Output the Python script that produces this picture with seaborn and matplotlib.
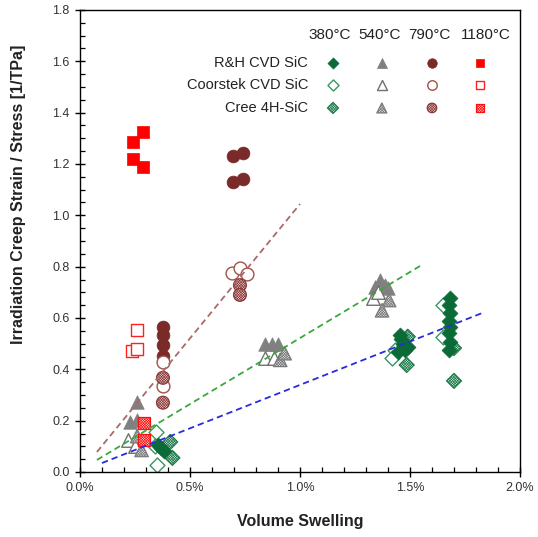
import matplotlib
matplotlib.use('Agg')
import matplotlib.pyplot as plt
import seaborn as sns
import numpy as np
from matplotlib.ticker import MultipleLocator, FuncFormatter

sns.set_style('white')
plt.rcParams['font.family'] = ['Liberation Sans', 'DejaVu Sans']
plt.rcParams['hatch.linewidth'] = 0.45

# ---------------- data (x = volume swelling in %, y = creep compliance 1/TPa)
# 380 C
rh380_x = [0.355, 0.38, 0.37, 1.455, 1.47, 1.477, 1.445, 1.49, 1.46,
           1.68, 1.675, 1.68, 1.675, 1.68, 1.675, 1.68, 1.675]
rh380_y = [0.105, 0.08, 0.095, 0.533, 0.50, 0.475, 0.467, 0.487, 0.52,
           0.677, 0.65, 0.62, 0.59, 0.565, 0.54, 0.507, 0.475]
co380_x = [0.345, 0.35, 0.34, 1.43, 1.42, 1.65, 1.65]
co380_y = [0.155, 0.028, 0.10, 0.475, 0.443, 0.65, 0.527]
cr380_x = [0.41, 0.42, 1.49, 1.485, 1.70, 1.70]
cr380_y = [0.117, 0.055, 0.527, 0.417, 0.483, 0.355]
# 540 C
rh540_x = [0.26, 0.228, 0.26, 0.84, 0.873, 0.90, 1.34, 1.364, 1.386, 1.40]
rh540_y = [0.273, 0.195, 0.203, 0.50, 0.50, 0.50, 0.72, 0.748, 0.728, 0.717]
co540_x = [0.22, 0.25, 0.84, 0.88, 1.33, 1.355]
co540_y = [0.125, 0.10, 0.445, 0.445, 0.677, 0.70]
cr540_x = [0.28, 0.26, 0.91, 0.93, 1.405, 1.373]
cr540_y = [0.086, 0.14, 0.437, 0.463, 0.67, 0.63]
# 790 C
rh790_x = [0.377, 0.377, 0.377, 0.377, 0.695, 0.74, 0.695, 0.74]
rh790_y = [0.565, 0.533, 0.495, 0.452, 1.23, 1.243, 1.13, 1.14]
co790_x = [0.377, 0.377, 0.69, 0.727, 0.76]
co790_y = [0.43, 0.335, 0.775, 0.795, 0.77]
cr790_x = [0.377, 0.377, 0.727, 0.727]
cr790_y = [0.367, 0.27, 0.728, 0.69]
# 1180 C
rh1180_x = [0.286, 0.24, 0.24, 0.286]
rh1180_y = [1.325, 1.285, 1.22, 1.19]
co1180_x = [0.235, 0.26, 0.26]
co1180_y = [0.47, 0.48, 0.553]
cr1180_x = [0.29, 0.29]
cr1180_y = [0.19, 0.125]

# fitted trend lines (endpoints)
fit380_x = [0.10, 1.83]
fit380_y = [0.035, 0.62]
fit540_x = [0.077, 1.56]
fit540_y = [0.047, 0.81]
fit790_x = [0.077, 1.00]
fit790_y = [0.078, 1.044]

temps = ['380°C', '540°C', '790°C', '1180°C']
materials = ['R&H CVD SiC', 'Coorstek CVD SiC', 'Cree 4H-SiC']
x_ticks = [0.0, 0.5, 1.0, 1.5, 2.0]
y_ticks = [0.0, 0.2, 0.4, 0.6, 0.8, 1.0, 1.2, 1.4, 1.6, 1.8]

# ---------------- styles
markers = {'380°C': 'D', '540°C': '^', '790°C': 'o', '1180°C': 's'}
sizes = {'380°C': 58, '540°C': 95, '790°C': 85, '1180°C': 70}
col_fill = {'380°C': '#0b6b37', '540°C': '#808080', '790°C': '#7b2a2a', '1180°C': '#ff0000'}
col_open = {'380°C': '#3a9466', '540°C': '#707070', '790°C': '#a0524a', '1180°C': '#ff2020'}
col_hat = {'380°C': '#1e7a4a', '540°C': '#7a7a7a', '790°C': '#8a3a3a', '1180°C': '#ff1010'}
col_hat_bg = {'380°C': '#d6eadf', '540°C': '#e4e4e4', '790°C': '#ead6d6', '1180°C': '#ffdede'}

groups = [
    ('380°C', 'open', co380_x, co380_y),
    ('380°C', 'hatch', cr380_x, cr380_y),
    ('380°C', 'fill', rh380_x, rh380_y),
    ('540°C', 'fill', rh540_x, rh540_y),
    ('540°C', 'open', co540_x, co540_y),
    ('540°C', 'hatch', cr540_x, cr540_y),
    ('790°C', 'fill', rh790_x, rh790_y),
    ('790°C', 'open', co790_x, co790_y),
    ('790°C', 'hatch', cr790_x, cr790_y),
    ('1180°C', 'fill', rh1180_x, rh1180_y),
    ('1180°C', 'open', co1180_x, co1180_y),
    ('1180°C', 'hatch', cr1180_x, cr1180_y),
]


def style_kw(t, kind):
    if kind == 'fill':
        return dict(color=col_fill[t], edgecolor=col_fill[t], linewidth=0.5)
    if kind == 'open':
        return dict(color=col_open[t], facecolor='white', edgecolor=col_open[t], linewidth=1.0)
    return dict(color=col_hat[t], facecolor=col_hat_bg[t], edgecolor=col_hat[t], linewidth=0.9,
                hatch='x' * 13)


fig = plt.figure(figsize=(5.38, 5.37), dpi=100)
ax = fig.add_axes([80 / 538, 1 - 472 / 537, 440 / 538, 462 / 537])

for t, kind, gx, gy in groups:
    sns.scatterplot(x=gx, y=gy, marker=markers[t], s=sizes[t], ax=ax, legend=False,
                    zorder=2, **style_kw(t, kind))

for fx, fy, c in [(fit380_x, fit380_y, '#2a2ae0'), (fit540_x, fit540_y, '#3aa83a'),
                  (fit790_x, fit790_y, '#a86a6a')]:
    sns.lineplot(x=fx, y=fy, ax=ax, color=c, linewidth=1.3, dashes=False, zorder=3)
    ax.lines[-1].set_linestyle((0, (3.5, 2.2)))

ax.set_xlim(0, 2.0)
ax.set_ylim(0, 1.8)
ax.set_xticks(x_ticks)
ax.set_yticks(y_ticks)
ax.xaxis.set_major_formatter(FuncFormatter(lambda v, p: f'{v:.1f}%'))
ax.yaxis.set_major_formatter(FuncFormatter(lambda v, p: f'{v:.1f}'))
ax.xaxis.set_minor_locator(MultipleLocator(0.1))
ax.yaxis.set_minor_locator(MultipleLocator(0.05))
ax.tick_params(which='major', direction='inout', length=7, width=1, colors='black',
               labelsize=9, labelcolor='#333333', pad=4)
ax.tick_params(which='minor', direction='in', length=3.5, width=0.9, colors='black')
ax.tick_params(axis='y', which='both', left=True)
ax.tick_params(axis='x', which='both', bottom=True)
for sp in ax.spines.values():
    sp.set_color('black')
    sp.set_linewidth(1.0)

ax.set_xlabel('Volume Swelling', fontsize=11.5, fontweight='bold', color='#222222', labelpad=14)
ax.set_ylabel('Irradiation Creep Strain / Stress [1/TPa]', fontsize=11.5, fontweight='bold',
              color='#222222')
ax.yaxis.set_label_coords(-0.122, 0.6)

# ---------------- table legend
col_x = [0.575, 0.686, 0.80, 0.909]
head_x = [0.568, 0.682, 0.795, 0.923]
row_y = [0.885, 0.838, 0.788]
for t, hx in zip(temps, head_x):
    ax.text(hx, 0.946, t, transform=ax.transAxes, ha='center', va='center',
            fontsize=11, color='#222222')
for m, ry, kind in zip(materials, row_y, ['fill', 'open', 'hatch']):
    ax.text(0.518, ry, m, transform=ax.transAxes, ha='right', va='center',
            fontsize=10.5, color='#222222')
    for t, cx in zip(temps, col_x):
        ax.scatter([cx], [ry], transform=ax.transAxes, marker=markers[t],
                   s=sizes[t] * 0.55, zorder=4, clip_on=False, **style_kw(t, kind))

fig.savefig('out.png', dpi=100)
